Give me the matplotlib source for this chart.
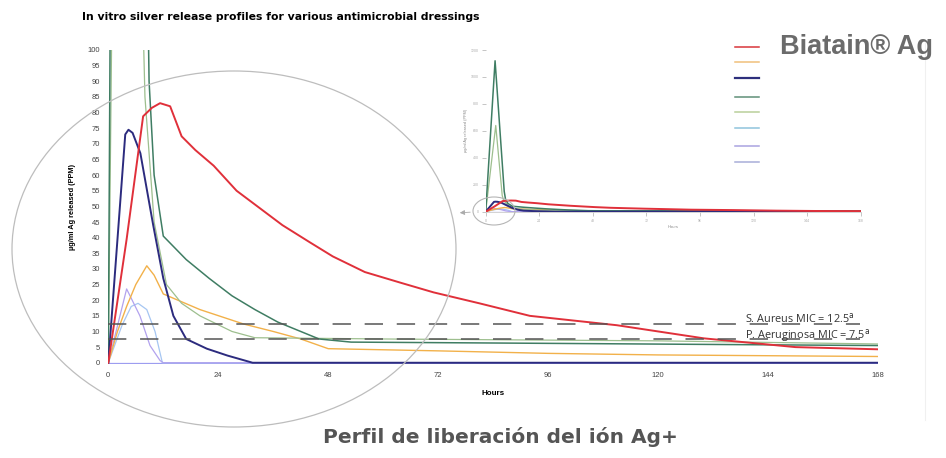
import matplotlib
matplotlib.use("Agg")
import matplotlib.pyplot as plt
from matplotlib.patches import Ellipse

plt.rcParams['font.family'] = ['Liberation Sans', 'DejaVu Sans']

# hours / ppm, one pair per dressing
hours_red = [0, 4, 7.6, 9.5, 11.3, 13.5, 16, 19, 23, 28, 33, 38, 44, 49, 56, 64, 71, 81, 92, 111, 130, 150, 168]
ppm_red = [0, 39.5, 78.8, 81.5, 83, 82, 72.4, 68, 63, 55, 49.5, 44, 38.5, 34, 29, 25.5, 22.5, 19, 15, 12, 7.8, 5, 4.3]

hours_orange = [0, 2, 4, 6, 8.4, 10, 12, 16, 20, 29.5, 36, 42, 48, 72, 96, 120, 168]
ppm_orange = [0, 10, 18, 25, 31, 28, 22, 19.5, 17, 12.4, 10, 7.6, 4.5, 3.8, 3, 2.5, 2]

hours_navy = [0, 3.7, 4.4, 5.3, 7, 9.8, 12, 14.2, 17, 21.5, 26, 31.5, 168]
ppm_navy = [0, 73, 74.5, 73.5, 67, 44, 27, 15, 7.6, 4.5, 2.3, 0, 0]

hours_green = [0, 4.2, 8.3, 8.9, 10, 12, 17, 22, 27, 32, 37, 42, 46, 53, 96, 168]
ppm_green = [0, 1120, 150, 90, 60, 40.5, 33, 27, 21.4, 17, 13, 10, 7.6, 6.6, 6.2, 5.5]

hours_lgreen = [0, 4.5, 7.4, 8, 10, 12.7, 16, 20, 27, 32, 60, 120, 168]
ppm_lgreen = [0, 640, 120, 85, 45, 25, 19, 15, 10, 8, 7.6, 7, 6]

hours_lblue = [0, 3, 5, 6.5, 8.4, 10.2, 11.8, 168]
ppm_lblue = [0, 12, 18, 19, 17, 10, 0, 0]

hours_purple = [0, 4, 6.9, 9.1, 11.3, 12, 168]
ppm_purple = [0, 23.6, 15, 5.5, 0.7, 0, 0]

hours_lav = [0, 168]
ppm_lav = [0, 0]

mic_values = [12.5, 7.5]
mic_labels = ['S. Aureus MIC = 12.5', 'P. Aeruginosa MIC = 7.5']

series = [
    (hours_lav, ppm_lav, '#9d9df0', 0.9),
    (hours_lblue, ppm_lblue, '#a6c6f2', 0.9),
    (hours_purple, ppm_purple, '#b2a2ee', 0.9),
    (hours_orange, ppm_orange, '#f2b14a', 1.0),
    (hours_lgreen, ppm_lgreen, '#9dbf8e', 0.9),
    (hours_green, ppm_green, '#3f7d63', 1.1),
    (hours_navy, ppm_navy, '#2c2b7e', 1.4),
    (hours_red, ppm_red, '#e0303a', 1.4),
]
legend_colors = ['#d8353a', '#f0c07a', '#2d2f7c', '#5f8f78', '#b9cf9a', '#8fc4dc', '#a9a3e0', '#a8aed8']

W, H = 946, 458
fig = plt.figure(figsize=(W / 100, H / 100), dpi=100)

# main chart
ax = fig.add_axes([108.3 / W, 1 - 364 / H, 769.7 / W, 314 / H])
for hx, py, c, lw in series:
    ax.plot(hx, py, color=c, lw=lw, solid_joinstyle='round')
for v in mic_values:
    ax.plot([0, 164], [v, v], color='#555555', lw=1.1, dashes=(12, 9))
for v, lab in zip(mic_values, mic_labels):
    ax.text(139, v + 0.4, lab + r'$^{\mathrm{a}}$', fontsize=7.8, family='Open Sans',
            color='#333333', va='baseline')
ax.set_xlim(0, 168)
ax.set_ylim(-0.4, 100)
ax.set_xticks(range(0, 169, 24))
ax.set_yticks(range(0, 101, 5))
ax.tick_params(length=0, labelsize=5.5, labelcolor='#444444', pad=6)
for s in ax.spines.values():
    s.set_visible(False)
ax.set_xlabel('Hours', fontsize=5.8, fontweight='bold', labelpad=8)
ax.set_ylabel('µg/ml Ag released (PPM)', fontsize=5.3, fontweight='bold', labelpad=8)

# inset overview
ins = fig.add_axes([485.7 / W, 1 - 211.7 / H, 375 / W, 161.7 / H])
for hx, py, c, lw in series:
    ins.plot(hx, py, color=c, lw=lw)
ins.set_xlim(0, 168)
ins.set_ylim(0, 1200)
ins.set_xticks(range(0, 169, 24))
ins.set_yticks(range(0, 1201, 200))
ins.tick_params(length=3, width=0.6, color='#bbbbbb', labelsize=2.5, labelcolor='#aaaaaa', pad=2)
for k, s in ins.spines.items():
    s.set_visible(k == 'bottom')
    s.set_color('#cccccc')
    s.set_linewidth(0.6)
ins.set_xlabel('Hours', fontsize=3, color='#888888', labelpad=2)
ins.set_ylabel('µg/ml Ag released (PPM)', fontsize=2.8, color='#888888', labelpad=2)

# overlay in pixel coordinates for decorations
ov = fig.add_axes([0, 0, 1, 1])
ov.set_xlim(0, W)
ov.set_ylim(H, 0)
ov.axis('off')
ov.patch.set_visible(False)
ov.add_patch(Ellipse((234, 249), 444, 356, fill=False, ec='#bdbdbd', lw=0.9))
ov.add_patch(Ellipse((494, 211), 42, 28, fill=False, ec='#b5b5b5', lw=0.8))
ov.annotate('', xy=(457, 213), xytext=(473, 212),
            arrowprops=dict(arrowstyle='-|>', color='#aaaaaa', lw=0.6, mutation_scale=7))
ov.plot([925, 925], [40, 420], color='#f0f0f0', lw=0.8)

legend_y = [46.7, 62.3, 78.3, 96.7, 111.7, 128.3, 145.7, 161.7]
for yy, c in zip(legend_y, legend_colors):
    ov.plot([735, 759], [yy, yy], color=c, lw=1.6 if c == '#2d2f7c' else 1.1)
ov.text(780, 47, 'Biatain® Ag', fontsize=19.5, fontweight='bold', color='#6b6b6b', va='center', ha='left')

fig.text(82 / W, 1 - 17 / H, 'In vitro silver release profiles for various antimicrobial dressings',
         fontsize=7.8, fontweight='bold', family='DejaVu Sans', va='center', ha='left')
fig.text(323 / W, 1 - 437 / H, 'Perfil de liberación del ión Ag+', fontsize=14.5, fontweight='bold',
         family='DejaVu Sans', color='#555555', ha='left', va='center')

fig.savefig('out.png', dpi=100, facecolor='white')
